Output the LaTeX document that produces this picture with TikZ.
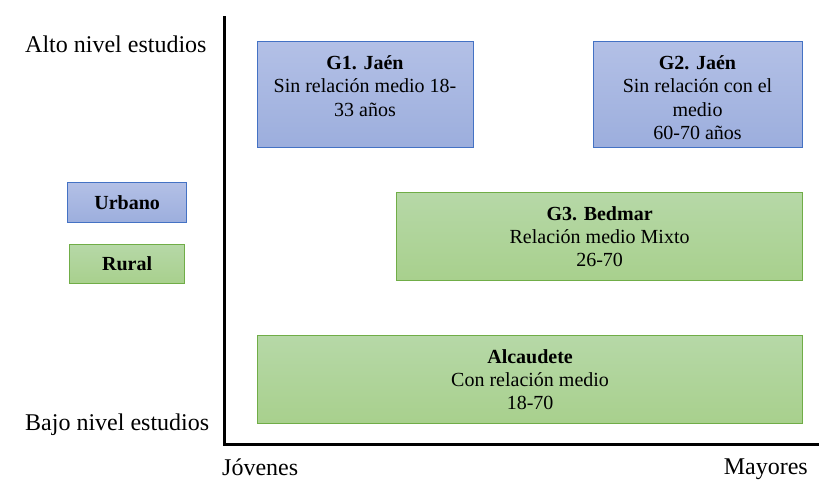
\documentclass[tikz,border=0pt]{standalone}
\usepackage{fontspec}
\setmainfont{Liberation Serif}
\definecolor{bluefillT}{HTML}{B3C0E6}
\definecolor{bluefillB}{HTML}{9CAEDD}
\definecolor{blueline}{HTML}{4472C4}
\definecolor{greenfillT}{HTML}{B6D8A7}
\definecolor{greenfillB}{HTML}{A8D08D}
\definecolor{greenline}{HTML}{70AD47}
\tikzset{
  boxtext/.style={align=center, font=\fontsize{20}{23.3}\selectfont},
  bluebox/.style={draw=blueline, line width=1.2pt, top color=bluefillT, bottom color=bluefillB, inner sep=0pt, anchor=north west, boxtext},
  greenbox/.style={draw=greenline, line width=1.2pt, top color=greenfillT, bottom color=greenfillB, inner sep=0pt, anchor=north west, boxtext},
  axislabel/.style={font=\fontsize{24}{28}\selectfont, inner sep=0pt},
  axis/.style={line width=3pt, black}
}
\begin{document}
\begin{tikzpicture}[x=1pt,y=-1pt]
\useasboundingbox (0,0) rectangle (819,481);
% axes
\coordinate (top) at (224,18);
\coordinate (origin) at (224,444);
\coordinate (right) at (819,444);
\draw[axis, line cap=rect] (top) -- (origin) -- (right);
% labels
\node[axislabel, anchor=west] (alto) at (25,44) {Alto nivel estudios};
\node[axislabel, anchor=west] (bajo) at (25,425) {Bajo nivel estudios};
\node[axislabel, anchor=west] (jov) at (222,467) {Jóvenes};
\node[axislabel, anchor=east] (may) at (808,469) {Mayores};
% boxes
\node[bluebox, minimum width=216pt, minimum height=106pt] (g1) at (257,41) {};
\node[boxtext, anchor=north] (g1t) at (365,52) {\textbf{G1. Jaén}\\Sin relación medio 18-\\33 años};
\node[bluebox, minimum width=209pt, minimum height=106pt] (g2) at (593,41) {};
\node[boxtext, anchor=north] (g2t) at (697.5,52) {\textbf{G2. Jaén}\\Sin relación con el\\medio\\60-70 años};
\node[bluebox, minimum width=119pt, minimum height=40pt, font=\fontsize{20}{23}\selectfont\bfseries] (urb) at (67,182) {Urbano};
\node[greenbox, minimum width=115pt, minimum height=39pt, font=\fontsize{20}{23}\selectfont\bfseries] (rur) at (69,244) {Rural};
\node[greenbox, minimum width=406pt, minimum height=88pt] (g3) at (396,192) {\textbf{G3. Bedmar}\\Relación medio Mixto\\26-70};
\node[greenbox, minimum width=545pt, minimum height=88pt] (alc) at (257,335) {\textbf{Alcaudete}\\Con relación medio\\18-70};
\end{tikzpicture}
\end{document}
